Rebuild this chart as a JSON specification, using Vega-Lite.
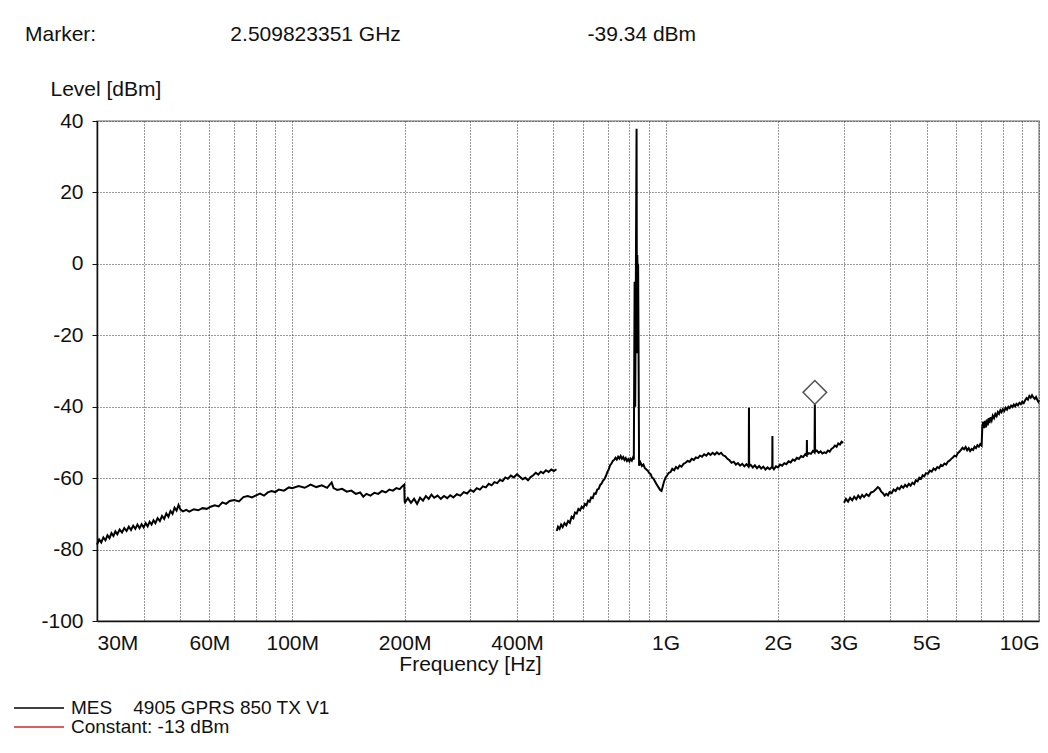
{
  "$schema": "https://vega.github.io/schema/vega-lite/v6.json",
  "width": 942,
  "height": 500,
  "autosize": {"type": "none"},
  "padding": {"left": 97, "top": 121, "right": 9, "bottom": 132},
  "background": "white",
  "title": {
    "text": "Marker:\u00a0\u00a0\u00a0\u00a0\u00a0\u00a0\u00a0\u00a0\u00a0\u00a0\u00a0\u00a0\u00a0\u00a0\u00a0\u00a0\u00a0\u00a0\u00a0\u00a0\u00a0\u00a0\u00a02.509823351 GHz\u00a0\u00a0\u00a0\u00a0\u00a0\u00a0\u00a0\u00a0\u00a0\u00a0\u00a0\u00a0\u00a0\u00a0\u00a0\u00a0\u00a0\u00a0\u00a0\u00a0\u00a0\u00a0\u00a0\u00a0\u00a0\u00a0\u00a0\u00a0\u00a0\u00a0\u00a0\u00a0-39.34 dBm",
    "anchor": "start",
    "frame": "group",
    "dx": -72,
    "offset": 33,
    "font": "Liberation Sans",
    "fontSize": 21,
    "fontWeight": "normal",
    "color": "#111111"
  },
  "config": {
    "view": {"stroke": "#999999", "strokeWidth": 1.5},
    "font": "Liberation Sans",
    "axis": {
      "labelFont": "Liberation Sans",
      "labelFontSize": 21,
      "labelColor": "#111111",
      "titleFont": "Liberation Sans",
      "titleFontSize": 21,
      "titleFontWeight": "normal",
      "titleColor": "#111111",
      "domainColor": "#111111",
      "domainWidth": 1.5,
      "tickColor": "#111111",
      "grid": true,
      "gridColor": "#333333",
      "gridDash": [1, 2],
      "gridWidth": 1
    },
    "legend": {
      "labelFont": "Liberation Sans",
      "labelFontSize": 19,
      "labelColor": "#111111",
      "labelLimit": 600
    }
  },
  "datasets": {
    "trace": [
      {"f":30,"v":-78.6,"s":1},{"f":30.4,"v":-77.2,"s":1},{"f":30.8,"v":-78.0,"s":1},{"f":31.2,"v":-76.6,"s":1},{"f":31.6,"v":-77.4,"s":1},
      {"f":32,"v":-76.0,"s":1},{"f":32.4,"v":-76.8,"s":1},{"f":32.8,"v":-75.4,"s":1},{"f":33.2,"v":-76.2,"s":1},{"f":33.6,"v":-74.9,"s":1},
      {"f":34,"v":-75.7,"s":1},{"f":34.5,"v":-74.4,"s":1},{"f":35,"v":-75.2,"s":1},{"f":35.5,"v":-74.0,"s":1},{"f":36,"v":-74.8,"s":1},
      {"f":36.5,"v":-73.6,"s":1},{"f":37,"v":-74.5,"s":1},{"f":37.5,"v":-73.3,"s":1},{"f":38,"v":-74.2,"s":1},{"f":38.5,"v":-73.0,"s":1},
      {"f":39,"v":-74.0,"s":1},{"f":39.5,"v":-72.9,"s":1},{"f":40,"v":-73.8,"s":1},{"f":40.5,"v":-72.6,"s":1},{"f":41,"v":-73.5,"s":1},
      {"f":41.5,"v":-72.2,"s":1},{"f":42,"v":-73.0,"s":1},{"f":42.5,"v":-71.8,"s":1},{"f":43,"v":-72.6,"s":1},{"f":43.6,"v":-71.2,"s":1},
      {"f":44.2,"v":-72.0,"s":1},{"f":44.8,"v":-70.6,"s":1},{"f":45.4,"v":-71.4,"s":1},{"f":46,"v":-69.9,"s":1},{"f":46.6,"v":-70.8,"s":1},
      {"f":47.2,"v":-69.2,"s":1},{"f":47.8,"v":-70.0,"s":1},{"f":48.4,"v":-68.3,"s":1},{"f":49,"v":-69.1,"s":1},{"f":49.6,"v":-67.5,"s":1},
      {"f":50.2,"v":-68.8,"s":1},{"f":51,"v":-69.3,"s":1},{"f":52,"v":-68.9,"s":1},{"f":53,"v":-69.4,"s":1},{"f":54.5,"v":-68.7,"s":1},
      {"f":56,"v":-69.0,"s":1},{"f":57.5,"v":-68.4,"s":1},{"f":59,"v":-68.6,"s":1},{"f":60.5,"v":-68.0,"s":1},{"f":62,"v":-67.6,"s":1},
      {"f":63.5,"v":-67.9,"s":1},{"f":65,"v":-66.8,"s":1},{"f":66.5,"v":-67.2,"s":1},{"f":68,"v":-66.4,"s":1},{"f":70,"v":-66.1,"s":1},
      {"f":72,"v":-66.5,"s":1},{"f":74,"v":-65.3,"s":1},{"f":76,"v":-65.0,"s":1},{"f":78,"v":-65.4,"s":1},{"f":80,"v":-64.8,"s":1},
      {"f":82,"v":-64.3,"s":1},{"f":84,"v":-64.9,"s":1},{"f":86,"v":-64.0,"s":1},{"f":88,"v":-63.6,"s":1},{"f":90,"v":-63.9,"s":1},
      {"f":92,"v":-63.2,"s":1},{"f":95,"v":-63.5,"s":1},{"f":98,"v":-62.6,"s":1},{"f":100,"v":-62.8,"s":1},{"f":104,"v":-62.2,"s":1},
      {"f":108,"v":-62.7,"s":1},{"f":112,"v":-61.8,"s":1},{"f":116,"v":-62.5,"s":1},{"f":120,"v":-62.0,"s":1},{"f":124,"v":-62.7,"s":1},
      {"f":127.5,"v":-61.2,"s":1},{"f":129,"v":-62.8,"s":1},{"f":132,"v":-63.3,"s":1},{"f":136,"v":-63.0,"s":1},{"f":140,"v":-63.8,"s":1},
      {"f":144,"v":-63.5,"s":1},{"f":148,"v":-64.4,"s":1},{"f":152,"v":-64.0,"s":1},{"f":155,"v":-65.2,"s":1},{"f":158,"v":-64.4,"s":1},
      {"f":162,"v":-64.9,"s":1},{"f":166,"v":-64.1,"s":1},{"f":170,"v":-64.4,"s":1},{"f":174,"v":-63.6,"s":1},{"f":178,"v":-64.0,"s":1},
      {"f":182,"v":-63.2,"s":1},{"f":186,"v":-63.5,"s":1},{"f":190,"v":-62.8,"s":1},{"f":194,"v":-63.1,"s":1},{"f":197,"v":-62.3,"s":1},
      {"f":199.5,"v":-61.8,"s":1},{"f":200,"v":-66.5,"s":1},{"f":200.5,"v":-66.8,"s":1},{"f":204,"v":-65.6,"s":1},{"f":208,"v":-66.9,"s":1},
      {"f":212,"v":-65.8,"s":1},{"f":216,"v":-67.2,"s":1},{"f":220,"v":-65.5,"s":1},{"f":224,"v":-66.3,"s":1},{"f":228,"v":-65.0,"s":1},
      {"f":232,"v":-65.8,"s":1},{"f":236,"v":-64.6,"s":1},{"f":240,"v":-65.5,"s":1},{"f":245,"v":-64.9,"s":1},{"f":250,"v":-65.8,"s":1},
      {"f":255,"v":-65.0,"s":1},{"f":260,"v":-65.6,"s":1},{"f":265,"v":-64.8,"s":1},{"f":270,"v":-65.4,"s":1},{"f":276,"v":-64.5,"s":1},
      {"f":282,"v":-64.9,"s":1},{"f":288,"v":-63.9,"s":1},{"f":294,"v":-64.3,"s":1},{"f":300,"v":-63.3,"s":1},{"f":306,"v":-63.8,"s":1},
      {"f":312,"v":-62.8,"s":1},{"f":318,"v":-63.2,"s":1},{"f":324,"v":-62.3,"s":1},{"f":330,"v":-62.6,"s":1},{"f":336,"v":-61.6,"s":1},
      {"f":342,"v":-62.0,"s":1},{"f":348,"v":-61.1,"s":1},{"f":354,"v":-61.4,"s":1},{"f":360,"v":-60.5,"s":1},{"f":366,"v":-60.8,"s":1},
      {"f":372,"v":-59.8,"s":1},{"f":378,"v":-60.2,"s":1},{"f":385,"v":-59.3,"s":1},{"f":392,"v":-59.8,"s":1},{"f":400,"v":-58.9,"s":1},
      {"f":407,"v":-59.6,"s":1},{"f":414,"v":-60.3,"s":1},{"f":421,"v":-59.9,"s":1},{"f":428,"v":-60.6,"s":1},{"f":435,"v":-59.7,"s":1},
      {"f":442,"v":-59.2,"s":1},{"f":449,"v":-58.5,"s":1},{"f":456,"v":-59.0,"s":1},{"f":463,"v":-58.2,"s":1},{"f":470,"v":-58.6,"s":1},
      {"f":478,"v":-57.8,"s":1},{"f":486,"v":-58.3,"s":1},{"f":494,"v":-57.6,"s":1},{"f":502,"v":-58.0,"s":1},{"f":510,"v":-57.5,"s":1},
      {"f":511,"v":-74.8,"s":2},{"f":515,"v":-73.6,"s":2},{"f":520,"v":-74.2,"s":2},{"f":525,"v":-73.0,"s":2},{"f":530,"v":-73.7,"s":2},
      {"f":536,"v":-72.6,"s":2},{"f":542,"v":-73.2,"s":2},{"f":548,"v":-72.0,"s":2},{"f":554,"v":-72.5,"s":2},{"f":560,"v":-70.8,"s":2},
      {"f":566,"v":-71.2,"s":2},{"f":572,"v":-69.6,"s":2},{"f":578,"v":-69.9,"s":2},{"f":584,"v":-68.6,"s":2},{"f":590,"v":-69.0,"s":2},
      {"f":596,"v":-68.0,"s":2},{"f":602,"v":-68.4,"s":2},{"f":608,"v":-67.2,"s":2},{"f":614,"v":-67.6,"s":2},{"f":620,"v":-66.3,"s":2},
      {"f":626,"v":-66.6,"s":2},{"f":632,"v":-65.4,"s":2},{"f":638,"v":-65.6,"s":2},{"f":644,"v":-64.3,"s":2},{"f":650,"v":-64.4,"s":2},
      {"f":656,"v":-63.2,"s":2},{"f":662,"v":-63.0,"s":2},{"f":668,"v":-61.9,"s":2},{"f":674,"v":-61.5,"s":2},{"f":680,"v":-60.7,"s":2},
      {"f":686,"v":-60.2,"s":2},{"f":692,"v":-59.4,"s":2},{"f":698,"v":-58.3,"s":2},{"f":704,"v":-57.6,"s":2},{"f":710,"v":-56.4,"s":2},
      {"f":716,"v":-55.9,"s":2},{"f":722,"v":-55.2,"s":2},{"f":728,"v":-54.9,"s":2},{"f":734,"v":-54.3,"s":2},{"f":740,"v":-54.8,"s":2},
      {"f":746,"v":-54.0,"s":2},{"f":752,"v":-54.5,"s":2},{"f":758,"v":-53.8,"s":2},{"f":764,"v":-54.6,"s":2},{"f":770,"v":-54.1,"s":2},
      {"f":776,"v":-54.9,"s":2},{"f":782,"v":-54.4,"s":2},{"f":788,"v":-55.2,"s":2},{"f":794,"v":-54.7,"s":2},{"f":800,"v":-55.3,"s":2},
      {"f":806,"v":-54.6,"s":2},{"f":812,"v":-55.1,"s":2},{"f":818,"v":-54.2,"s":2},{"f":822,"v":-54.8,"s":2},{"f":826,"v":-5.0,"s":2},
      {"f":829,"v":-40.0,"s":2},{"f":832,"v":-8.0,"s":2},{"f":836,"v":37.8,"s":2},{"f":838,"v":-25.0,"s":2},{"f":840,"v":2.5,"s":2},
      {"f":842,"v":-15.0,"s":2},{"f":844,"v":0.0,"s":2},{"f":846,"v":-20.0,"s":2},{"f":849,"v":-56.5,"s":2},{"f":856,"v":-55.6,"s":2},
      {"f":864,"v":-56.6,"s":2},{"f":872,"v":-56.2,"s":2},{"f":880,"v":-57.2,"s":2},{"f":888,"v":-57.6,"s":2},{"f":896,"v":-57.9,"s":2},
      {"f":904,"v":-58.6,"s":2},{"f":912,"v":-58.9,"s":2},{"f":920,"v":-59.9,"s":2},{"f":928,"v":-60.1,"s":2},{"f":936,"v":-60.9,"s":2},
      {"f":944,"v":-61.6,"s":2},{"f":952,"v":-62.2,"s":2},{"f":960,"v":-62.8,"s":2},{"f":968,"v":-63.4,"s":2},{"f":975,"v":-63.6,"s":2},
      {"f":982,"v":-62.4,"s":2},{"f":990,"v":-61.0,"s":2},{"f":1000,"v":-59.8,"s":2},{"f":1010,"v":-59.2,"s":2},{"f":1020,"v":-58.5,"s":2},
      {"f":1031,"v":-58.3,"s":2},{"f":1042,"v":-57.4,"s":2},{"f":1054,"v":-57.8,"s":2},{"f":1066,"v":-56.9,"s":2},{"f":1078,"v":-57.3,"s":2},
      {"f":1090,"v":-56.5,"s":2},{"f":1103,"v":-56.8,"s":2},{"f":1117,"v":-56.0,"s":2},{"f":1131,"v":-55.7,"s":2},{"f":1145,"v":-55.2,"s":2},
      {"f":1160,"v":-55.4,"s":2},{"f":1175,"v":-54.6,"s":2},{"f":1190,"v":-54.9,"s":2},{"f":1205,"v":-54.2,"s":2},{"f":1220,"v":-54.4,"s":2},
      {"f":1236,"v":-53.7,"s":2},{"f":1252,"v":-54.0,"s":2},{"f":1268,"v":-53.3,"s":2},{"f":1285,"v":-53.7,"s":2},{"f":1302,"v":-53.0,"s":2},
      {"f":1319,"v":-53.5,"s":2},{"f":1336,"v":-52.9,"s":2},{"f":1354,"v":-53.4,"s":2},{"f":1372,"v":-52.8,"s":2},{"f":1390,"v":-53.3,"s":2},
      {"f":1408,"v":-52.9,"s":2},{"f":1426,"v":-53.6,"s":2},{"f":1445,"v":-53.9,"s":2},{"f":1464,"v":-54.6,"s":2},{"f":1483,"v":-55.0,"s":2},
      {"f":1502,"v":-55.7,"s":2},{"f":1522,"v":-55.4,"s":2},{"f":1542,"v":-56.2,"s":2},{"f":1562,"v":-55.8,"s":2},{"f":1583,"v":-56.5,"s":2},
      {"f":1604,"v":-56.0,"s":2},{"f":1625,"v":-56.7,"s":2},{"f":1646,"v":-56.1,"s":2},{"f":1668,"v":-56.8,"s":2},{"f":1670,"v":-56.5,"s":2},
      {"f":1672,"v":-40.3,"s":2},{"f":1674,"v":-56.6,"s":2},{"f":1690,"v":-56.3,"s":2},{"f":1712,"v":-57.0,"s":2},{"f":1734,"v":-56.4,"s":2},
      {"f":1757,"v":-57.2,"s":2},{"f":1780,"v":-56.6,"s":2},{"f":1803,"v":-57.3,"s":2},{"f":1827,"v":-56.8,"s":2},{"f":1851,"v":-57.6,"s":2},
      {"f":1875,"v":-57.0,"s":2},{"f":1900,"v":-57.5,"s":2},{"f":1925,"v":-56.9,"s":2},{"f":1930,"v":-57.2,"s":2},{"f":1932,"v":-48.2,"s":2},
      {"f":1934,"v":-57.0,"s":2},{"f":1950,"v":-57.5,"s":2},{"f":1975,"v":-56.7,"s":2},{"f":2000,"v":-57.0,"s":2},{"f":2026,"v":-56.2,"s":2},
      {"f":2052,"v":-56.5,"s":2},{"f":2079,"v":-55.8,"s":2},{"f":2106,"v":-56.1,"s":2},{"f":2134,"v":-55.3,"s":2},{"f":2162,"v":-55.6,"s":2},
      {"f":2190,"v":-54.8,"s":2},{"f":2218,"v":-55.1,"s":2},{"f":2247,"v":-54.3,"s":2},{"f":2276,"v":-54.6,"s":2},{"f":2306,"v":-53.8,"s":2},
      {"f":2336,"v":-54.1,"s":2},{"f":2366,"v":-53.3,"s":2},{"f":2388,"v":-53.6,"s":2},{"f":2390,"v":-49.3,"s":2},{"f":2392,"v":-53.5,"s":2},
      {"f":2420,"v":-53.0,"s":2},{"f":2450,"v":-53.2,"s":2},{"f":2480,"v":-52.4,"s":2},{"f":2505,"v":-52.8,"s":2},{"f":2509.823351,"v":-39.34,"s":2},
      {"f":2514,"v":-52.6,"s":2},{"f":2540,"v":-52.3,"s":2},{"f":2570,"v":-52.9,"s":2},{"f":2600,"v":-52.5,"s":2},{"f":2630,"v":-53.1,"s":2},
      {"f":2660,"v":-52.8,"s":2},{"f":2690,"v":-53.0,"s":2},{"f":2720,"v":-52.3,"s":2},{"f":2750,"v":-52.6,"s":2},{"f":2780,"v":-51.8,"s":2},
      {"f":2810,"v":-51.5,"s":2},{"f":2840,"v":-50.9,"s":2},{"f":2870,"v":-51.2,"s":2},{"f":2900,"v":-50.3,"s":2},{"f":2930,"v":-50.6,"s":2},
      {"f":2960,"v":-49.8,"s":2},{"f":2990,"v":-50.1,"s":2},
      {"f":3005,"v":-66.9,"s":3},{"f":3040,"v":-65.8,"s":3},{"f":3080,"v":-66.6,"s":3},{"f":3120,"v":-65.5,"s":3},{"f":3160,"v":-66.2,"s":3},
      {"f":3200,"v":-65.2,"s":3},{"f":3240,"v":-65.9,"s":3},{"f":3280,"v":-64.9,"s":3},{"f":3320,"v":-65.6,"s":3},{"f":3360,"v":-64.7,"s":3},
      {"f":3400,"v":-65.3,"s":3},{"f":3450,"v":-64.5,"s":3},{"f":3500,"v":-65.0,"s":3},{"f":3550,"v":-64.0,"s":3},{"f":3600,"v":-63.8,"s":3},
      {"f":3650,"v":-63.2,"s":3},{"f":3700,"v":-62.5,"s":3},{"f":3740,"v":-62.9,"s":3},{"f":3780,"v":-63.8,"s":3},{"f":3820,"v":-64.2,"s":3},
      {"f":3860,"v":-64.9,"s":3},{"f":3900,"v":-64.4,"s":3},{"f":3940,"v":-64.8,"s":3},{"f":3980,"v":-63.9,"s":3},{"f":4030,"v":-64.2,"s":3},
      {"f":4080,"v":-63.2,"s":3},{"f":4130,"v":-63.6,"s":3},{"f":4180,"v":-62.7,"s":3},{"f":4230,"v":-63.1,"s":3},{"f":4280,"v":-62.2,"s":3},
      {"f":4330,"v":-62.7,"s":3},{"f":4380,"v":-61.9,"s":3},{"f":4430,"v":-62.4,"s":3},{"f":4480,"v":-61.6,"s":3},{"f":4530,"v":-62.1,"s":3},
      {"f":4580,"v":-61.3,"s":3},{"f":4630,"v":-61.7,"s":3},{"f":4680,"v":-60.6,"s":3},{"f":4730,"v":-60.9,"s":3},{"f":4780,"v":-59.9,"s":3},
      {"f":4830,"v":-60.2,"s":3},{"f":4880,"v":-59.2,"s":3},{"f":4930,"v":-59.5,"s":3},{"f":4980,"v":-58.6,"s":3},{"f":5040,"v":-58.8,"s":3},
      {"f":5100,"v":-57.9,"s":3},{"f":5160,"v":-58.2,"s":3},{"f":5220,"v":-57.3,"s":3},{"f":5280,"v":-57.7,"s":3},{"f":5340,"v":-56.9,"s":3},
      {"f":5400,"v":-57.2,"s":3},{"f":5460,"v":-56.3,"s":3},{"f":5520,"v":-56.6,"s":3},{"f":5580,"v":-55.9,"s":3},{"f":5640,"v":-56.2,"s":3},
      {"f":5700,"v":-55.4,"s":3},{"f":5760,"v":-55.1,"s":3},{"f":5820,"v":-54.6,"s":3},{"f":5880,"v":-54.2,"s":3},{"f":5940,"v":-53.7,"s":3},
      {"f":6000,"v":-53.9,"s":3},{"f":6060,"v":-53.0,"s":3},{"f":6120,"v":-52.6,"s":3},{"f":6180,"v":-52.1,"s":3},{"f":6240,"v":-51.5,"s":3},
      {"f":6300,"v":-51.9,"s":3},{"f":6360,"v":-51.3,"s":3},{"f":6420,"v":-52.2,"s":3},{"f":6480,"v":-51.6,"s":3},{"f":6540,"v":-52.4,"s":3},
      {"f":6600,"v":-51.8,"s":3},{"f":6660,"v":-52.1,"s":3},{"f":6720,"v":-51.2,"s":3},{"f":6780,"v":-51.6,"s":3},{"f":6840,"v":-50.8,"s":3},
      {"f":6900,"v":-51.2,"s":3},{"f":6960,"v":-50.5,"s":3},{"f":7020,"v":-50.9,"s":3},{"f":7050,"v":-45.6,"s":3},{"f":7090,"v":-44.2,"s":3},
      {"f":7130,"v":-46.0,"s":3},{"f":7170,"v":-44.0,"s":3},{"f":7210,"v":-45.8,"s":3},{"f":7250,"v":-43.6,"s":3},{"f":7290,"v":-45.2,"s":3},
      {"f":7330,"v":-43.2,"s":3},{"f":7370,"v":-44.6,"s":3},{"f":7420,"v":-42.9,"s":3},{"f":7470,"v":-43.8,"s":3},{"f":7520,"v":-42.5,"s":3},
      {"f":7580,"v":-43.2,"s":3},{"f":7640,"v":-42.0,"s":3},{"f":7700,"v":-42.6,"s":3},{"f":7760,"v":-41.5,"s":3},{"f":7820,"v":-42.0,"s":3},
      {"f":7880,"v":-41.0,"s":3},{"f":7940,"v":-41.5,"s":3},{"f":8000,"v":-40.7,"s":3},{"f":8070,"v":-41.2,"s":3},{"f":8140,"v":-40.3,"s":3},
      {"f":8210,"v":-40.8,"s":3},{"f":8280,"v":-40.0,"s":3},{"f":8350,"v":-40.4,"s":3},{"f":8420,"v":-39.7,"s":3},{"f":8490,"v":-40.1,"s":3},
      {"f":8560,"v":-39.4,"s":3},{"f":8630,"v":-39.9,"s":3},{"f":8700,"v":-39.2,"s":3},{"f":8780,"v":-39.6,"s":3},{"f":8860,"v":-38.9,"s":3},
      {"f":8940,"v":-39.3,"s":3},{"f":9020,"v":-38.6,"s":3},{"f":9100,"v":-39.0,"s":3},{"f":9180,"v":-38.2,"s":3},{"f":9260,"v":-37.6,"s":3},
      {"f":9340,"v":-38.0,"s":3},{"f":9420,"v":-37.0,"s":3},{"f":9500,"v":-37.5,"s":3},{"f":9580,"v":-36.8,"s":3},{"f":9660,"v":-37.4,"s":3},
      {"f":9740,"v":-37.8,"s":3},{"f":9820,"v":-37.3,"s":3},{"f":9900,"v":-38.1,"s":3},{"f":9960,"v":-38.6,"s":3},{"f":10000,"v":-38.2,"s":3}
    ],
    "marker": [{"f": 2509.823351, "v": -39.34}]
  },
  "encoding": {
    "x": {
      "field": "f",
      "type": "quantitative",
      "scale": {"type": "log", "domain": [30, 10000], "nice": false},
      "axis": {
        "title": "Frequency [Hz]",
        "titleX": 373,
        "titleY": 49,
        "titleAlign": "center",
        "titleBaseline": "alphabetic",
        "values": [30,40,50,60,70,80,90,100,200,300,400,500,600,700,800,900,1000,2000,3000,4000,5000,6000,7000,8000,9000,10000],
        "labelExpr": "indexof([30,60,100,200,400,1000,2000,3000,5000,10000], datum.value) >= 0 ? (datum.value >= 1000 ? (datum.value / 1000) + 'G' : datum.value + 'M') : ''",
        "labelFlush": true,
        "labelOverlap": false,
        "ticks": false,
        "tickSize": 0,
        "labelPadding": 11
      }
    },
    "y": {
      "field": "v",
      "type": "quantitative",
      "scale": {"domain": [-100, 40], "nice": false, "zero": false},
      "axis": {
        "title": "Level [dBm]",
        "titleAngle": 0,
        "titleAlign": "left",
        "titleBaseline": "alphabetic",
        "titleX": -47,
        "titleY": -26,
        "values": [-100, -80, -60, -40, -20, 0, 20, 40],
        "labelExpr": "'' + datum.value",
        "tickSize": 5,
        "labelPadding": 9
      }
    }
  },
  "layer": [
    {
      "mark": {"type": "rule", "strokeWidth": 1.5},
      "encoding": {
        "x": null,
        "y": {"datum": -13, "type": "quantitative"},
        "stroke": {
          "datum": "Constant: -13 dBm",
          "scale": {"domain": ["Constant: -13 dBm"], "range": ["#d02828"]},
          "legend": {
            "title": null,
            "orient": "none",
            "legendX": -84,
            "legendY": 580,
            "symbolType": "stroke",
            "symbolSize": 2500,
            "symbolStrokeWidth": 1.5,
            "labelOffset": 6,
            "padding": 0
          }
        }
      }
    },
    {
      "data": {"name": "trace"},
      "mark": {"type": "line", "strokeWidth": 2, "interpolate": "linear"},
      "encoding": {
        "detail": {"field": "s", "type": "nominal"},
        "color": {
          "datum": "MES\u00a0\u00a0\u00a0 4905 GPRS 850 TX V1",
          "scale": {
            "domain": ["MES\u00a0\u00a0\u00a0 4905 GPRS 850 TX V1"],
            "range": ["#000000"]
          },
          "legend": {
            "title": null,
            "orient": "none",
            "legendX": -84,
            "legendY": 561,
            "symbolType": "stroke",
            "symbolSize": 2500,
            "symbolStrokeWidth": 1.5,
            "labelOffset": 6,
            "padding": 0
          }
        }
      }
    },
    {
      "data": {"name": "marker"},
      "mark": {"type": "point", "shape": "diamond", "size": 560, "filled": false, "color": "#555555", "strokeWidth": 1.5, "yOffset": -12, "opacity": 1}
    }
  ]
}
